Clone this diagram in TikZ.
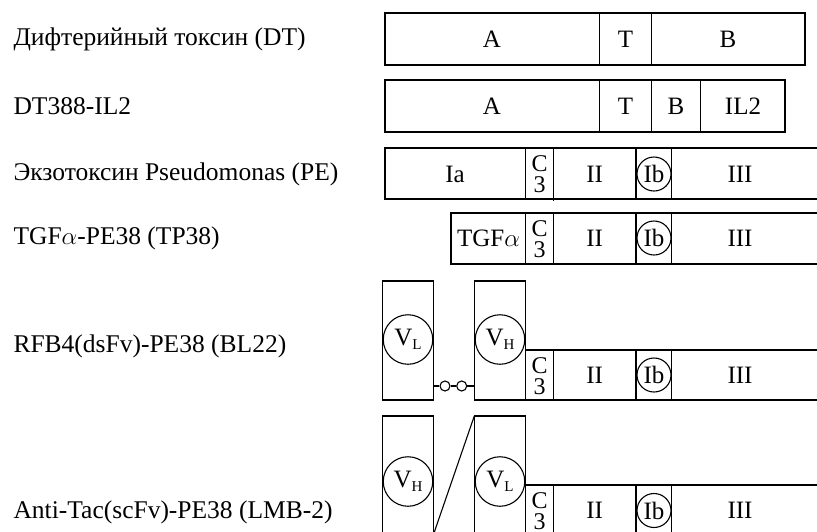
\documentclass[tikz,border=0pt]{standalone}
\usepackage{fontspec}
\setmainfont{Liberation Serif}
\begin{document}
\begin{tikzpicture}[x=1pt,y=-1pt,line width=1.1pt,
  lbl/.style={anchor=west,inner sep=0pt,font=\fontsize{25.5}{28}\selectfont},
  seg/.style={inner sep=0pt,font=\fontsize{25}{28}\selectfont},
  cthree/.style={inner sep=0pt,align=center,font=\fontsize{24}{21}\selectfont},
  ring/.style={draw,circle,inner sep=0pt,minimum size=34pt,font=\fontsize{25}{28}\selectfont},
  vring/.style={draw,circle,inner sep=0pt,minimum size=49.5pt,font=\fontsize{25}{28}\selectfont},
  linkring/.style={draw,circle,inner sep=0pt,minimum size=10pt,fill=white}]
\useasboundingbox (0,0) rectangle (817,531);
\clip (0,0) rectangle (817,531);
\newcommand{\Vsub}[1]{V\raisebox{-0.4ex}{\fontsize{15}{15}\selectfont #1}}
% left labels
\node[lbl] (l1) at (13,39) {Дифтерийный токсин (DT)};
\node[lbl] (l2) at (13,106) {DT388-IL2};
\node[lbl] (l3) at (13,174) {Экзотоксин Pseudomonas (PE)};
\node[lbl] (l4) at (13,238) {TGF$\alpha$-PE38 (TP38)};
\node[lbl] (l5) at (13,346) {RFB4(dsFv)-PE38 (BL22)};
\node[lbl] (l6) at (13,512) {Anti-Tac(scFv)-PE38 (LMB-2)};
% row 1
\draw (385,13) rectangle (805,65);
\draw (599.3,13) -- (599.3,65) (651.7,13) -- (651.7,65);
\node[seg] (r1a) at (492,39) {A};
\node[seg] (r1t) at (625.5,39) {T};
\node[seg] (r1b) at (728,39) {B};
% row 2
\draw (385,80) rectangle (785,132);
\draw (599.3,80) -- (599.3,132) (651.7,80) -- (651.7,132) (700.7,80) -- (700.7,132);
\node[seg] (r2a) at (492,106) {A};
\node[seg] (r2t) at (625.5,106) {T};
\node[seg] (r2b) at (676,106) {B};
\node[seg] (r2il) at (743,106) {IL2};
% row 3
\draw (830,148) -- (385,148) -- (385,199) -- (830,199);
\draw (525.7,148) -- (525.7,199) (553.3,148) -- (553.3,201) (636,148) -- (636,199) (671.7,148) -- (671.7,199);
\node[seg] (r3ia) at (455,174) {Ia};
\node[cthree] (r3c) at (539.5,174) {C\\3};
\node[seg] (r3ii) at (594.7,174) {II};
\node[ring] (r3ib) at (654,174) {Ib};
\node[seg] (r3iii) at (740,174) {III};
% row 4
\draw (830,213) -- (451,213) -- (451,264) -- (830,264);
\draw (525.7,213) -- (525.7,264) (553.3,213) -- (553.3,264) (636,213) -- (636,264) (671.7,213) -- (671.7,264);
\node[seg] (r4tgf) at (488.5,238) {TGF$\alpha$};
\node[cthree] (r4c) at (539.5,239) {C\\3};
\node[seg] (r4ii) at (594.7,238) {II};
\node[ring] (r4ib) at (654,238) {Ib};
\node[seg] (r4iii) at (740,238) {III};
% row 5
\draw (382.7,281) rectangle (433.3,400);
\draw (474.3,281) rectangle (525.7,400);
\draw (525.7,350) -- (830,350) (525.7,400) -- (830,400);
\draw (553.3,350) -- (553.3,400) (636,350) -- (636,400) (671.7,350) -- (671.7,400);
\node[vring] (r5vl) at (408,339.5) {\Vsub{L}};
\node[vring] (r5vh) at (500,339.5) {\Vsub{H}};
\coordinate (r5a) at (433.3,386);
\coordinate (r5b) at (474.3,386);
\node[linkring] (r5k1) at (445,386) {};
\node[linkring] (r5k2) at (461.7,386) {};
\draw (r5a) -- (r5k1) -- (r5k2) -- (r5b);
\node[cthree] (r5c) at (539.5,376) {C\\3};
\node[seg] (r5ii) at (594.7,375) {II};
\node[ring] (r5ib) at (654,375) {Ib};
\node[seg] (r5iii) at (740,375) {III};
% row 6
\draw (382.7,416) rectangle (433.3,540);
\draw (474.3,416) rectangle (525.7,540);
\coordinate (r6top) at (474.3,416);
\coordinate (r6bot) at (433.3,535);
\draw (r6top) -- (r6bot);
\draw (525.7,485) -- (830,485) (525.7,536) -- (830,536);
\draw (553.3,485) -- (553.3,540) (636,485) -- (636,540) (671.7,485) -- (671.7,540);
\node[vring] (r6vh) at (408,481.5) {\Vsub{H}};
\node[vring] (r6vl) at (500,481.5) {\Vsub{L}};
\node[cthree] (r6c) at (539.5,511.5) {C\\3};
\node[seg] (r6ii) at (594.7,510.5) {II};
\node[ring] (r6ib) at (654,510.5) {Ib};
\node[seg] (r6iii) at (740,510.5) {III};
\end{tikzpicture}
\end{document}
